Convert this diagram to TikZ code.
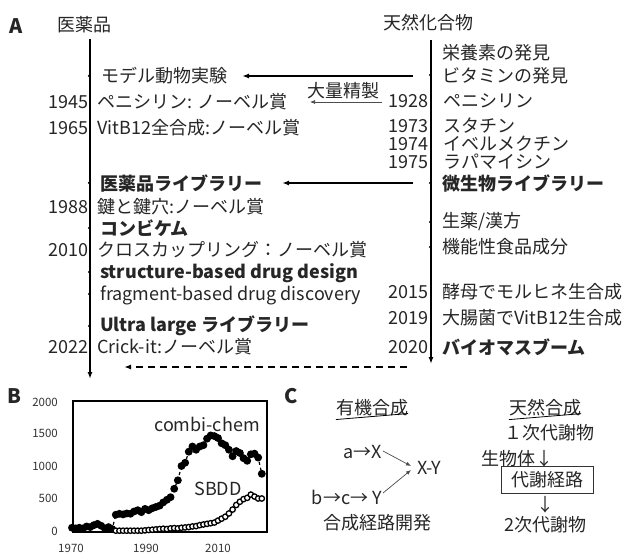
\documentclass[tikz,border=0pt]{standalone}
\usepackage{fontspec}
\setmainfont{Noto Sans CJK JP}
\usetikzlibrary{arrows.meta}
\definecolor{txt}{HTML}{262626}
\tikzset{
  every node/.style={inner sep=0pt, text=txt},
  tl/.style={font=\fontsize{18}{20}\selectfont, anchor=west},
  tb/.style={font=\fontsize{18}{20}\selectfont\bfseries, anchor=west},
  yr/.style={font=\fontsize{18}{20}\selectfont, anchor=east},
  ttl/.style={font=\fontsize{18}{20}\selectfont},
  panel/.style={font=\fontsize{20}{22}\selectfont\bfseries},
  timeaxis/.style={line width=2pt, -{Latex[length=7pt,width=5pt]}},
  bigarrow/.style={line width=2pt, -{Latex[length=7pt,width=5pt]}},
  thinarrow/.style={line width=0.7pt, draw=black!70, -{Latex[length=5pt,width=4pt]}},
  tickdot/.style={fill=black, circle, minimum size=2.5pt, inner sep=0pt},
  ticklab/.style={font=\fontsize{11.5}{13}\selectfont, text=black!80},
  serieslab/.style={font=\fontsize{18}{20}\selectfont},
  opendot/.style={circle, draw=black, line width=1.3pt, fill=white, minimum size=5.4pt, inner sep=0pt}
}
\begin{document}
\begin{tikzpicture}[x=1pt,y=-1pt]
\useasboundingbox (0,0) rectangle (632,556);
\fill[white] (0,0) rectangle (632,556);

% ---------------- Panel A ----------------
\node[panel] (pA) at (16,26) {A};
\node[ttl] (hL) at (84,25) {医薬品};
\node[ttl] (hR) at (428,23) {天然化合物};

\coordinate (Ltop) at (90,39);
\coordinate (Lbot) at (90,379);
\coordinate (Rtop) at (431,40);
\coordinate (Rbot) at (431,364);
\draw[timeaxis] (Ltop) -- (Lbot);
\draw[timeaxis] (Rtop) -- (Rbot);

% tick dots left
\foreach \yy in {76,183,228,272,294,326}{\node[tickdot] at (89,\yy) {};}
% tick dots right
\foreach \yy in {75,183,222,247}{\node[tickdot] at (430,\yy) {};}

% left texts
\node[tl] (l1) at (101,76) {モデル動物実験};
\node[yr] (y1945) at (89,102) {1945};
\node[tl] (l2) at (97,102) {ペニシリン: ノーベル賞};
\node[yr] (y1965) at (89,128) {1965};
\node[tl] (l3) at (97,128) {VitB12全合成:ノーベル賞};
\node[tb] (l4) at (100,183) {医薬品ライブラリー};
\node[yr] (y1988) at (89,207) {1988};
\node[tl] (l5) at (97,207) {鍵と鍵穴:ノーベル賞};
\node[tb] (l6) at (100,228) {コンビケム};
\node[yr] (y2010) at (89,250) {2010};
\node[tl] (l7) at (97,250) {クロスカップリング：ノーベル賞};
\node[tb] (l8) at (100,273) {structure-based drug design};
\node[tl] (l9) at (100,295) {fragment-based drug discovery};
\node[tb] (l10) at (100,326) {Ultra large ライブラリー};
\node[yr] (y2022) at (89,347) {2022};
\node[tl] (l11) at (97,347) {Crick-it:ノーベル賞};

% right texts
\node[tl] (r1) at (442,53) {栄養素の発見};
\node[tl] (r2) at (442,76) {ビタミンの発見};
\node[yr] (y1928) at (429,101) {1928};
\node[tl] (r3) at (443,101) {ペニシリン};
\node[yr] (y1973) at (429,126) {1973};
\node[tl] (r4) at (443,126) {スタチン};
\node[yr] (y1974) at (429,144) {1974};
\node[tl] (r5) at (443,144) {イベルメクチン};
\node[yr] (y1975) at (429,162) {1975};
\node[tl] (r6) at (443,162) {ラパマイシン};
\node[tb] (r7) at (442,183) {微生物ライブラリー};
\node[tl] (r8) at (442,222) {生薬/漢方};
\node[tl] (r9) at (442,247) {機能性食品成分};
\node[yr] (y2015) at (429,292) {2015};
\node[tl] (r10) at (442,292) {酵母でモルヒネ生合成};
\node[yr] (y2019) at (429,318) {2019};
\node[tl] (r11) at (442,318) {大腸菌でVitB12生合成};
\node[yr] (y2020) at (429,347) {2020};
\node[tb] (r12) at (442,347) {バイオマスブーム};

% connecting arrows
\coordinate (a1s) at (413,76);
\coordinate (a1e) at (242,76);
\draw[bigarrow] (a1s) -- (a1e);
\coordinate (a2s) at (382,102);
\coordinate (a2e) at (310,102);
\draw[thinarrow] (a2s) -- (a2e);
\node[ttl] (tairyo) at (343,91) {大量精製};
\coordinate (a3s) at (413,183);
\coordinate (a3e) at (282,183);
\draw[bigarrow] (a3s) -- (a3e);
\coordinate (a4s) at (407,367);
\coordinate (a4e) at (124,367);
\draw[bigarrow, dash pattern=on 7pt off 5pt, line width=1.6pt] (a4s) -- (a4e);

% ---------------- Panel B ----------------
\node[panel] (pB) at (14,396) {B};
\draw[line width=1.2pt] (73,401) rectangle (267,532);
\node[ticklab, anchor=east] (t2000) at (58,402) {2000};
\node[ticklab, anchor=east] (t1500) at (58,433) {1500};
\node[ticklab, anchor=east] (t1000) at (58,466) {1000};
\node[ticklab, anchor=east] (t500) at (58,498) {500};
\node[ticklab, anchor=east] (t0) at (58,531) {0};
\node[ticklab] (x1970) at (71,548) {1970};
\node[ticklab] (x1990) at (146,548) {1990};
\node[ticklab] (x2010) at (218,548) {2010};

\begin{scope}[shift={(72,531)}, x=3.65pt, y=0.065pt]
\draw[line width=1.2pt, dashed, mark=*, mark size=3.3pt, mark options={solid, fill=black}]
 plot coordinates {(0,50) (1,40) (2,50) (3,40) (4,70) (5,60) (6,90) (7,110) (8,80) (9,40) (10,60) (11,30)
 (12,250) (13,265) (14,255) (15,270) (16,265) (17,300) (18,320) (19,290) (20,340) (21,320) (22,350) (23,370)
 (24,390) (25,440) (26,480) (27,520) (28,650) (29,780) (30,1000) (31,1050) (32,1220) (33,1300) (34,1250)
 (35,1300) (36,1320) (37,1420) (38,1470) (39,1460) (40,1430) (41,1350) (42,1320) (43,1250) (44,1150)
 (45,1230) (46,1200) (47,1120) (48,1080) (49,1180) (50,1190) (51,1130) (52,880)};
\foreach \a/\b in {12/5,13/5,14/5,15/5,16/5,17/5,18/5,19/5,
 20/10,21/15,22/20,23/25,24/30,25/35,26/30,27/40,28/45,29/40,30/50,31/55,
 32/60,33/70,34/75,35/90,36/100,37/110,38/120,39/130,40/160,41/190,42/220,
 43/270,44/330,45/400,46/450,47/490,48/510,49/560,50/530,51/500,52/500}
 {\node[opendot] at (\a,\b) {};}
\end{scope}
\node[serieslab] (cc) at (207,424) {combi-chem};
\node[serieslab] (sb) at (218,489) {SBDD};

% ---------------- Panel C ----------------
\node[panel] (pC) at (291,396) {C};
\node[ttl] (yuki) at (372,408) {有機合成};
\draw[line width=0.8pt] (yuki.south west) ++(0,3) -- ([yshift=3pt]yuki.south east);
\node[ttl] (tennen) at (545,408) {天然合成};
\draw[line width=0.8pt] (tennen.south west) ++(0,3) -- ([yshift=3pt]tennen.south east);

\node[tl, anchor=east] (aX) at (382,452) {a→X};
\node[tl, anchor=east] (bcY) at (382,497) {b→c→ Y};
\node[tl] (XY) at (417,468) {X-Y};
\coordinate (m1) at (411,466);
\coordinate (m2) at (411,470);
\draw[thinarrow] (aX.east) ++(1,-1) coordinate (aXe) -- (m1);
\draw[thinarrow] (bcY.east) ++(1,-4) coordinate (bYe) -- (m2);
\node[ttl] (gosei) at (377,523) {合成経路開発};

\node[ttl] (ichiji) at (549,433) {１次代謝物};
\node[tl, anchor=east] (seibutsu) at (554,459) {生物体↓};
\node[ttl, draw=black!80, line width=0.8pt, minimum width=92pt, minimum height=27pt] (taisha) at (547,480) {代謝経路};
\node[ttl] (down2) at (545,505) {↓};
\node[ttl] (niji) at (545,525) {2次代謝物};
\end{tikzpicture}
\end{document}
